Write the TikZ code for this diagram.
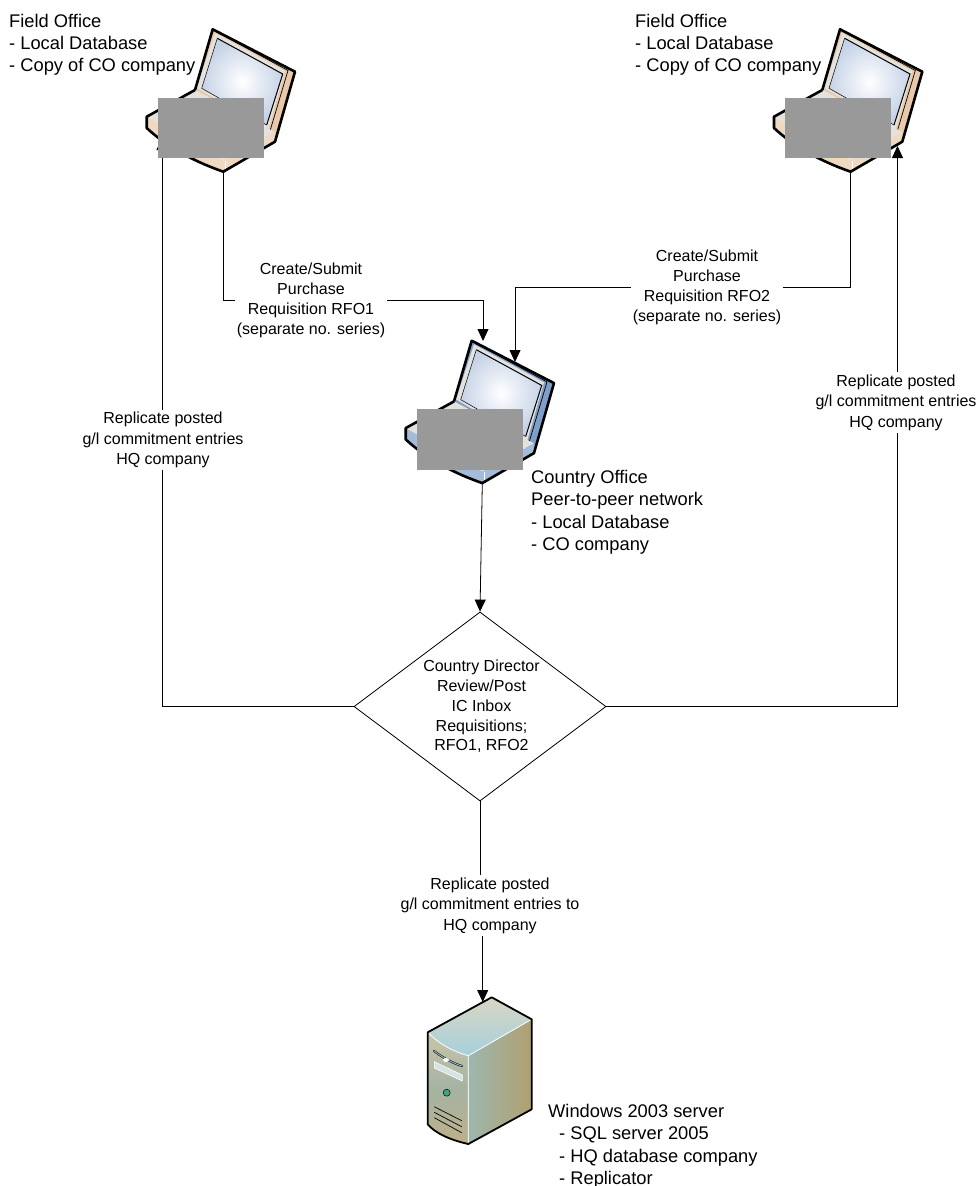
\documentclass[tikz,border=0pt]{standalone}
\usepackage{fontspec}
\setmainfont{Liberation Sans}
\usetikzlibrary{shapes.geometric,arrows.meta}
\tikzstyle{arrow} = [draw, -{Triangle[length=12pt,width=11pt]}, line width=0.8pt]
\tikzstyle{wire} = [draw, line width=0.8pt]
\tikzstyle{note} = [align=center, inner sep=2pt, font=\fontsize{16}{19.8}\selectfont]
\tikzstyle{hqnote} = [note, font=\fontsize{16}{20.6}\selectfont]
\tikzstyle{place} = [align=left, inner sep=0pt, anchor=north west, font=\fontsize{18.3}{22.3}\selectfont]
\tikzstyle{fieldplace} = [place, font=\fontsize{18.3}{21.6}\selectfont]
\tikzstyle{mask} = [fill=maskgray, draw=none, inner sep=0pt, minimum width=106pt]
\definecolor{maskgray}{HTML}{999999}
\definecolor{lidtan}{HTML}{E9C9A9}
\definecolor{lidblue}{HTML}{7F9FC8}
\definecolor{rimgray}{HTML}{E4E2DE}
\definecolor{screenblue}{HTML}{C6D3E6}
\definecolor{srvtan}{HTML}{C9C5A8}
\definecolor{srvsage}{HTML}{A5B3A3}
\definecolor{srvbase}{HTML}{BDB08A}
\definecolor{srvsand}{HTML}{B0A070}
\definecolor{srvgreen}{HTML}{9DB7AF}
\definecolor{topsand}{HTML}{D8D6C2}
\definecolor{topblue}{HTML}{A6D0DE}
\definecolor{slotblue}{HTML}{8FB9C4}
\definecolor{barblue}{HTML}{D5E3E4}
\definecolor{ledgreen}{HTML}{3FA585}
\newcommand{\laptop}[4]{%
\begin{scope}[shift={(#2,#3)}]
\fill[#4] (212.7,29.3) -- (295,71.7) -- (275,141.7) -- (195,95) -- cycle;
\fill[rimgray] (215,33) -- (285,71) -- (268,130) -- (197,88) -- cycle;
\draw[line width=0.7pt] (215,31) -- (288,70.5) -- (270,131);
\shade[inner color=white, outer color=screenblue] (217.3,38.3) -- (282.7,74) -- (266.7,125) -- (201.7,88.3) -- cycle;
\draw[line width=1pt] (217.3,38.3) -- (282.7,74) -- (266.7,125);
\draw[line width=0.5pt] (217.3,38.3) -- (201.7,88.3) -- (266.7,125);
\fill[rimgray] (146.7,116.7) -- (195,90) -- (275,132) -- (223.3,160) -- cycle;
\fill[#4!70!white] (146.7,116.7) -- (223.3,160) -- (275,132) -- (275,141.7) -- (223.3,171.7) .. controls (190,160) and (165,145) .. (146.7,128) -- cycle;
\draw[white, line width=1pt] (225,161) -- (225,170);
\draw[line width=2.6pt, line join=round] (195,90) -- (212.7,29.3) -- (295,71.7) -- (275,141.7) -- (223.3,171.7) .. controls (190,160) and (165,145) .. (146.7,128) -- (146.7,116.7) -- (195,90);
\coordinate (#1-top) at (212.7,29.3);
\coordinate (#1-front) at (223.3,171.7);
\end{scope}}

\begin{document}
\begin{tikzpicture}[x=1pt, y=-1pt]
\useasboundingbox (0,0) rectangle (979,1186);

%% laptops
\laptop{fieldone}{0}{0}{lidtan}
\laptop{fieldtwo}{627.3}{0}{lidtan}
\laptop{country}{259}{311.4}{lidblue}

%% server
\shade[top color=srvtan, bottom color=srvbase, middle color=srvsage] (427.7,1032.3) .. controls (440,1045) and (455,1052) .. (468.3,1055.7) -- (468.3,1144) .. controls (450,1140) and (435,1133) .. (427.7,1124.3) -- cycle;
\shade[left color=srvgreen, right color=srvsand] (468.3,1055.7) -- (531.7,1019.3) -- (531.7,1109.3) -- (468.3,1144) -- cycle;
\shade[top color=topsand, bottom color=topblue] (427.7,1032.3) -- (491.7,997.3) -- (531.7,1019.3) -- (468.3,1055.7) .. controls (455,1052) and (440,1045) .. (427.7,1032.3);
\draw[white, line width=0.8pt] (427.7,1032.3) .. controls (440,1045) and (455,1052) .. (468.3,1055.7) -- (531.7,1019.3) (468.3,1055.7) -- (468.3,1144);
\draw[line width=1.8pt, line join=round] (491.7,997.3) -- (531.7,1019.3) -- (531.7,1109.3) -- (468.3,1144) .. controls (450,1140) and (435,1133) .. (427.7,1124.3) -- (427.7,1032.3) -- cycle;
\draw[line width=2pt, line cap=round] (434,1051) .. controls (442,1057) and (452,1063) .. (462,1066);
\draw[line width=1pt, slotblue, line cap=round] (434,1051) .. controls (442,1057) and (452,1063) .. (462,1066);
\fill[white] (446,1060) ellipse (3 and 2);
\fill[barblue, draw=white, line width=0.6pt] (434.3,1061.7) -- (462.3,1075) -- (462.3,1081) -- (434.3,1068) -- cycle;
\fill[ledgreen, draw=black, line width=0.5pt] (446.7,1092.7) circle (3.5);
\draw[line width=0.7pt] (434.3,1106.7) -- (461.7,1120.7) (434.3,1112.3) -- (461.7,1126.7) (434.3,1117.7) -- (461.7,1132.7);
\coordinate (servertop) at (482.7,1002);

%% decision
\node[diamond, draw, line width=0.8pt, inner sep=0pt, minimum width=252pt, minimum height=189pt, aspect=1.333, label={[note, xshift=1.5pt]center:{Country Director\\Review/Post\\IC Inbox\\Requisitions;\\RFO1, RFO2}}] at (480,706.5) (review) {};

%% labels on the connectors
\node[note] at (311,300.5) (reqone) {Create/Submit\\Purchase\\Requisition RFO1\\(separate no. series)};
\node[note] at (707,287.5) (reqtwo) {Create/Submit\\Purchase\\Requisition RFO2\\(separate no. series)};
\node[hqnote] at (163,440) (hqone) {Replicate posted\\g/l commitment entries\\HQ company};
\node[hqnote] at (896,402.5) (hqtwo) {Replicate posted\\g/l commitment entries\\HQ company};
\node[hqnote] at (490,905.5) (hqthree) {Replicate posted\\g/l commitment entries to\\HQ company};

%% requisitions
\path[wire] (fieldone-front) |- (reqone.west);
\path[arrow] (reqone.east) -| (483,341) coordinate (countryone);
\path[wire] (fieldtwo-front) |- (reqtwo.east);
\path[arrow] (reqtwo.west) -| (515,362) coordinate (countrytwo);

%% replication
\coordinate (fieldonein) at (162,138);
\coordinate (fieldtwoin) at (897.5,146);
\path[wire] (review.west) -| (fieldonein |- hqone.south);
\path[arrow] (fieldonein |- hqone.north) -- (fieldonein);
\path[wire] (review.east) -| (fieldtwoin |- hqtwo.south);
\path[arrow] (fieldtwoin |- hqtwo.north) -- (fieldtwoin);
\path[arrow] (country-front) -- (review.north);
\path[wire] (review.south) -- (review.south |- hqthree.north);
\path[arrow] (servertop |- hqthree.south) -- (servertop);

%% grey boxes
\node[mask, minimum height=59.7pt] at (211,127.8) (maskone) {};
\node[mask, minimum height=59.7pt] at (838,127.8) (masktwo) {};
\node[mask, minimum height=60.7pt] at (470,439.3) (maskthree) {};

%% site texts
\node[fieldplace] at (9,14.5) (fieldonetext) {Field Office\\- Local Database\\- Copy of CO company};
\node[fieldplace] at (635,14.5) (fieldtwotext) {Field Office\\- Local Database\\- Copy of CO company};
\node[place] at (531,470) (countrytext) {Country Office\\Peer-to-peer network\\- Local Database\\- CO company};
\node[place] at (548,1104) (servertext) {Windows 2003 server\\\hspace*{11pt}- SQL server 2005\\\hspace*{11pt}- HQ database company\\\hspace*{11pt}- Replicator};
\end{tikzpicture}
\end{document}
